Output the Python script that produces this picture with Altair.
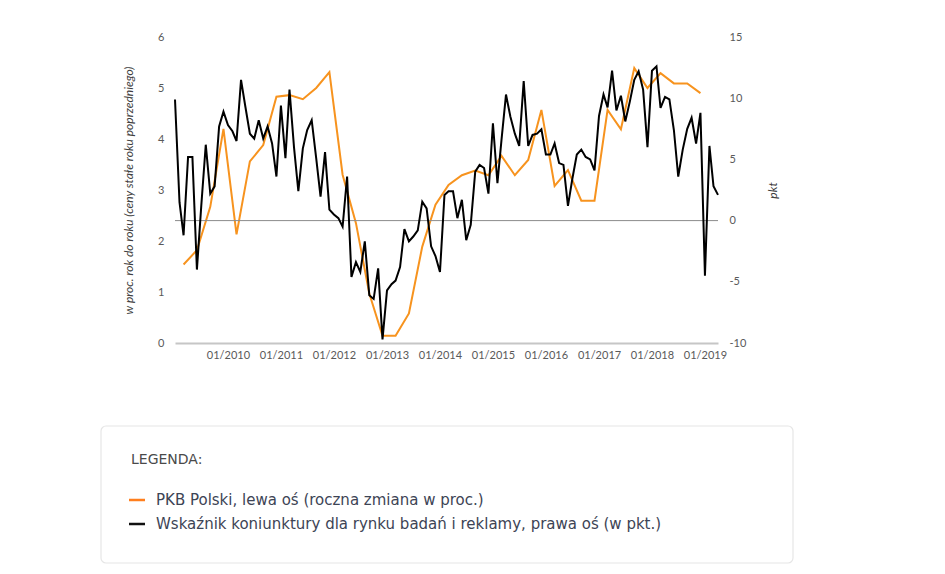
import altair as alt
import pandas as pd

# ---- data ----
months = pd.date_range("2009-01-01", periods=124, freq="MS")
quarters = pd.date_range("2009-03-01", periods=40, freq="3MS")

gdp = [1.54, 1.82, 2.67, 4.2, 2.13, 3.56, 3.88, 4.83, 4.86, 4.78,
       5.0, 5.31, 3.3, 2.35, 0.97, 0.14, 0.14, 0.58, 1.89, 2.71,
       3.1, 3.29, 3.38, 3.29, 3.67, 3.29, 3.59, 4.57, 3.08, 3.39,
       2.79, 2.79, 4.57, 4.19, 5.39, 5.0, 5.29, 5.09, 5.09, 4.9]

indicator = [9.9, 1.5, -1.2, 5.2, 5.2, -4.0, 1.2, 6.2, 2.2, 2.8, 7.7, 8.9,
             7.8, 7.3, 6.5, 11.5, 9.3, 7.1, 6.7, 8.2, 6.7, 7.7, 6.3, 3.6,
             9.4, 5.1, 10.7, 6.0, 2.4, 5.9, 7.4, 8.2, 5.1, 1.95, 5.6, 0.9,
             0.5, 0.2, -0.5, 3.6, -4.6, -3.4, -4.2, -1.7, -6.1, -6.4, -3.9, -9.7,
             -5.7, -5.2, -4.9, -3.8, -0.7, -1.7, -1.3, -0.8, 1.55, 1.0, -2.1, -2.9,
             -4.2, 2.1, 2.4, 2.4, 0.2, 1.7, -1.6, -0.35, 4.0, 4.55, 4.3, 2.2,
             7.95, 3.05, 6.6, 10.3, 8.5, 7.1, 6.1, 11.4, 6.1, 7.0, 7.1, 7.45,
             5.4, 5.4, 6.3, 4.7, 4.55, 1.2, 3.4, 5.4, 5.8, 5.2, 5.0, 4.1,
             8.55, 10.3, 9.25, 12.25, 9.0, 10.2, 8.1, 9.7, 11.5, 12.2, 10.7, 6.0,
             12.25, 12.6, 9.2, 10.1, 9.9, 7.4, 3.6, 5.8, 7.5, 8.4, 6.3, 8.8,
             -4.5, 6.1, 2.8, 2.1]

series_names = ["PKB Polski, lewa oś (roczna zmiana w proc.)",
                "Wskaźnik koniunktury dla rynku badań i reklamy, prawa oś (w pkt.)"]
series_colors = ["#f7931e", "#000000"]
legend_title = "LEGENDA:"
left_title = "w proc. rok do roku (ceny stałe roku poprzedniego)"
right_title = "pkt"
left_ticks = [0, 1, 2, 3, 4, 5, 6]
right_ticks = [-10, -5, 0, 5, 10, 15]
x_tick_years = list(range(2010, 2020))

gdp_df = pd.DataFrame({"date": quarters.strftime("%Y-%m-%dT00:00:00"), "value": gdp})
ind_df = pd.DataFrame({"date": months.strftime("%Y-%m-%dT00:00:00"), "value": indicator})
one = pd.DataFrame({"a": [0]})

W, H = 543, 306
AX_FONT = "Lato"
LABEL_COLOR = "#595959"

x_enc = alt.X(
    "date:T",
    scale=alt.Scale(domain=[alt.DateTime(year=2009, month=1, date=1),
                            alt.DateTime(year=2019, month=4, date=1)]),
    axis=alt.Axis(values=[alt.DateTime(year=y, month=1, date=1) for y in x_tick_years],
                  format="%m/%Y", ticks=False, grid=False, labelFlush=False,
                  domainColor="#c6c6c6", domainWidth=2,
                  labelColor=LABEL_COLOR, labelFont=AX_FONT, labelFontSize=11,
                  labelPadding=6, title=None),
)

left_axis = alt.Axis(values=left_ticks, orient="left", ticks=False, domain=False, grid=False,
                     labelExpr="'' + datum.value",
                     labelColor=LABEL_COLOR, labelFont=AX_FONT, labelFontSize=11, labelPadding=11,
                     title=left_title, titleFont=AX_FONT, titleFontSize=12, titleFontStyle="italic",
                     titleFontWeight="normal", titleColor="#404040",
                     titleAngle=270, titleX=-47, titleY=H / 2, titleAlign="center",
                     titleBaseline="middle")
right_axis = alt.Axis(values=right_ticks, orient="right", ticks=False, domain=False, grid=False,
                      labelExpr="'' + datum.value",
                      labelColor=LABEL_COLOR, labelFont=AX_FONT, labelFontSize=11, labelPadding=11,
                      title=right_title, titleFont=AX_FONT, titleFontSize=12, titleFontStyle="italic",
                      titleFontWeight="normal", titleColor="#404040",
                      titleAngle=270, titleX=54, titleY=H / 2, titleAlign="center",
                      titleBaseline="middle")
left_scale = alt.Scale(domain=[0, 6], nice=False, zero=False)
right_scale = alt.Scale(domain=[-10, 15], nice=False, zero=False)

orange = alt.Chart(gdp_df).mark_line(color=series_colors[0], strokeWidth=2).encode(
    x=x_enc, y=alt.Y("value:Q", scale=left_scale, axis=left_axis))

black = alt.Chart(ind_df).mark_line(color=series_colors[1], strokeWidth=2).encode(
    x=x_enc, y=alt.Y("value:Q", scale=right_scale, axis=right_axis))

zero_rule = alt.Chart(pd.DataFrame({"value": [0]})).mark_rule(color="#8c8c8c", strokeWidth=1).encode(
    y=alt.Y("value:Q", scale=right_scale, axis=right_axis))

# legend box (decoration below the plot)
LEG_FONT = "DejaVu Sans"
box = alt.Chart(one).mark_rect(fill="white", stroke="#e6e6e6", strokeWidth=1.2, cornerRadius=5).encode(
    x=alt.value(-74), x2=alt.value(618), y=alt.value(389), y2=alt.value(526))
leg_title = alt.Chart(one).mark_text(text=legend_title, align="left", baseline="middle",
                                     font=LEG_FONT, fontSize=14, color="#4a4a4a").encode(
    x=alt.value(-44), y=alt.value(423))
dash1 = alt.Chart(one).mark_rule(color="#ff7f1e", strokeWidth=2.5).encode(
    x=alt.value(-46), x2=alt.value(-30), y=alt.value(463))
txt1 = alt.Chart(one).mark_text(text=series_names[0], align="left", baseline="middle",
                                font=LEG_FONT, fontSize=15, color="#3d4455").encode(
    x=alt.value(-19), y=alt.value(463))
dash2 = alt.Chart(one).mark_rule(color="#111111", strokeWidth=2.5).encode(
    x=alt.value(-46), x2=alt.value(-30), y=alt.value(487))
txt2 = alt.Chart(one).mark_text(text=series_names[1], align="left", baseline="middle",
                                font=LEG_FONT, fontSize=15, color="#3d4455").encode(
    x=alt.value(-19), y=alt.value(487))

left_group = alt.layer(box, leg_title, dash1, txt1, dash2, txt2, orange)
right_group = alt.layer(zero_rule, black)

chart = alt.layer(left_group, right_group).resolve_scale(y="independent").properties(
    width=W, height=H,
    padding={"left": 167, "top": 29, "right": 217, "bottom": 222},
    autosize=alt.AutoSizeParams(type="none"),
    background="white",
).configure_view(stroke=None)

chart.save("out.html", embed_options={"renderer": "svg", "actions": False})
